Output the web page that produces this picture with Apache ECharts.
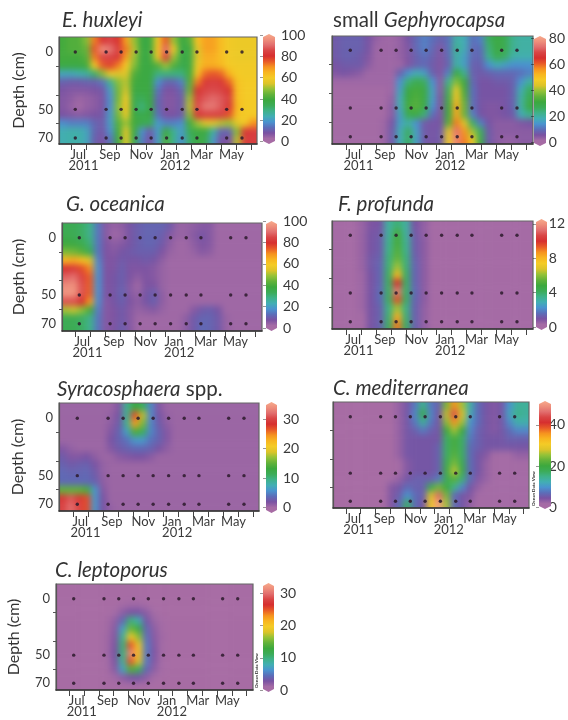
<!DOCTYPE html>
<html><head><meta charset="utf-8">
<style>html,body{margin:0;padding:0;background:#fff}#c{width:568px;height:720px}</style>
<script src="https://cdn.jsdelivr.net/npm/echarts@6/dist/echarts.min.js"></script>
</head><body><div id="c"></div>
<script>
// sampling stations
const sampleMonths = [0.3,2.35,3.35,4.35,5.35,6.38,7.42,8.4,10.38,11.4];
const sampleDepths = [0,50,70];
const monthNames = ['Jul','Sep','Nov','Jan','Mar','May'];
const yearNames = ['2011','2012'];

// field values: rows top to bottom, columns left to right
const huxleyi = [
[40,42,42,48,72,82,85,80,68,50,38,38,58,75,50,38,42,62,68,68,63,59,58,58,58],
[40,42,42,45,76,96,92,84,72,52,38,38,62,90,58,37,38,55,68,68,63,59,58,58,58],
[40,40,40,43,72,85,85,82,68,50,38,38,58,84,50,37,38,55,66,66,63,59,58,58,58],
[38,38,38,40,60,75,78,72,60,48,38,38,42,50,42,36,38,58,66,66,64,60,59,59,59],
[22,22,24,26,32,48,58,55,55,42,38,38,30,30,30,30,40,62,74,76,74,65,60,59,59],
[11,10,10,11,11,14,28,48,52,40,38,38,18,12,12,16,42,72,82,84,82,74,62,60,60],
[8,7,7,7,8,9,20,46,54,38,38,38,14,8,8,12,45,80,85,86,85,80,63,60,60],
[7,6,4,5,6,8,18,46,60,36,34,38,12,7,7,10,50,84,88,90,88,84,63,60,60],
[7,5,3,5,6,8,18,48,62,36,30,38,12,7,7,10,52,86,92,92,88,82,64,60,60],
[8,7,6,7,8,9,20,46,58,38,36,38,14,8,8,10,48,82,84,84,84,76,62,60,60],
[18,16,16,16,12,10,20,42,50,40,36,34,20,16,16,18,40,50,55,55,52,50,56,59,70],
[24,25,25,22,12,9,18,40,56,38,18,10,20,38,28,20,34,38,38,26,12,12,48,82,84],
[24,25,25,22,11,8,14,38,56,36,16,8,20,42,28,18,32,38,36,20,8,8,52,84,84]];
const gephyrocapsa = [
[7,8,8,8,6,3,2,2,3,6,9,12,10,8,10,20,18,10,12,26,30,28,22,20,20],
[7,8,8,8,6,2,2,2,3,5,9,12,9,5,10,22,18,9,10,24,30,28,22,20,20],
[7,8,8,7,5,2,2,2,3,5,8,10,8,5,9,20,16,9,9,22,28,26,20,19,19],
[6,7,7,7,4,2,2,2,2,5,8,9,7,5,8,20,16,8,8,14,18,16,14,14,14],
[5,6,5,4,2,2,2,2,8,14,18,16,8,5,12,30,22,8,7,8,9,9,9,10,12],
[2,2,2,2,2,2,2,2,14,24,28,26,14,4,22,38,30,9,6,6,7,7,8,14,20],
[1,1,1,1,1,1,1,2,16,30,32,30,16,4,26,46,32,10,6,6,6,6,8,18,26],
[1,1,1,1,1,1,1,3,18,31,33,30,16,5,28,50,34,10,6,6,6,6,8,20,28],
[1,1,1,1,1,1,1,4,18,32,34,30,14,5,30,54,36,10,6,5,5,6,8,20,30],
[1,1,1,1,1,1,1,4,16,28,30,24,10,5,30,54,36,12,6,5,5,6,7,18,22],
[1,1,1,1,1,1,2,6,16,20,14,7,6,6,34,58,44,26,12,6,4,4,4,5,6],
[1,1,1,1,1,1,2,7,18,26,16,7,6,7,44,74,56,40,26,7,4,4,4,4,4],
[1,1,1,1,1,1,2,7,18,26,16,7,6,7,46,76,58,46,28,7,4,3,3,4,4]];
const oceanica = [
[34,34,32,28,14,6,4,5,8,10,11,11,11,9,4,4,5,6,6,3,3,3,3,3,3],
[35,34,32,28,14,6,3,4,8,10,11,11,10,6,4,4,6,8,6,3,3,3,3,3,3],
[38,37,35,30,14,7,5,6,8,10,11,11,9,5,3,3,5,7,6,3,3,3,3,3,3],
[46,45,42,34,14,7,6,8,9,10,10,10,7,4,3,3,4,6,5,3,3,3,3,3,3],
[64,66,62,54,16,7,7,9,8,8,9,8,5,3,3,3,3,3,3,3,3,3,3,3,3],
[80,82,76,70,18,7,7,10,7,7,7,6,4,3,3,3,3,3,3,3,3,3,3,3,3],
[88,90,84,74,18,7,8,10,7,5,7,6,4,3,3,3,3,3,3,3,3,3,3,3,3],
[94,95,86,74,18,7,8,10,6,3,7,7,4,3,3,3,3,3,3,3,3,3,3,3,3],
[96,96,86,74,18,7,8,11,6,4,8,10,5,3,3,3,3,3,3,3,3,3,3,3,3],
[86,86,80,68,17,6,8,10,7,5,8,10,5,3,3,3,3,3,3,3,3,3,3,3,3],
[50,52,48,40,15,6,7,9,6,4,5,6,4,3,3,3,6,9,10,8,3,3,3,3,3],
[34,34,32,28,14,6,7,9,6,3,3,3,3,3,3,5,9,11,11,9,4,3,3,3,3],
[34,34,32,28,14,6,7,10,6,3,3,3,3,3,3,5,9,12,11,9,4,3,3,3,3]];
const profunda = [
[.2,.2,.2,.5,.9,1,3.2,3.8,3.2,1,.6,.2,.2,.2,.2,.2,.2,.2,.2,.2,.2,.2,.2],
[.2,.2,.2,.5,1,1.1,3.2,5,3.2,1.1,.6,.2,.2,.2,.2,.2,.2,.2,.2,.2,.2,.2,.2],
[.2,.2,.2,.5,1,1.2,3.4,5,3.4,1.2,.7,.2,.2,.2,.2,.2,.2,.2,.2,.2,.2,.2,.2],
[.2,.2,.2,.5,1,1.2,3.5,5.2,3.5,1.2,.7,.2,.2,.2,.2,.2,.2,.2,.2,.2,.2,.2,.2],
[.2,.2,.2,.5,1.1,1.3,3.7,5.5,3.7,1.3,.7,.2,.2,.2,.2,.2,.2,.2,.2,.2,.2,.2,.2],
[.2,.2,.2,.5,1.1,1.4,3.8,6.2,3.8,1.4,.7,.2,.2,.2,.2,.2,.2,.2,.2,.2,.2,.2,.2],
[.2,.2,.2,.4,1,1.4,4,8,4,1.4,.7,.2,.2,.2,.2,.2,.2,.2,.2,.2,.2,.2,.2],
[.2,.2,.2,.4,1,1.4,4,10,4,1.4,.7,.2,.2,.2,.2,.2,.2,.2,.2,.2,.2,.2,.2],
[.2,.2,.2,.4,1,1.5,4,11.5,4,1.5,.7,.2,.2,.2,.2,.2,.2,.2,.2,.2,.2,.2,.2],
[.2,.2,.2,.4,1,1.5,4,9.5,4,1.4,.7,.2,.2,.2,.2,.2,.2,.2,.2,.2,.2,.2,.2],
[.2,.2,.2,.4,1,1.3,3.6,6.2,3.6,1.3,.6,.2,.2,.2,.2,.2,.2,.2,.2,.2,.2,.2,.2],
[.2,.2,.2,.3,1,1.3,3.8,8.2,3.8,1.3,.6,.2,.2,.2,.2,.2,.2,.2,.2,.2,.2,.2,.2],
[.2,.2,.2,.3,1,1.3,4,9,4,1.3,.6,.2,.2,.2,.2,.2,.2,.2,.2,.2,.2,.2,.2]];
const syracosphaera = [
[.4,.4,.4,.4,.4,.4,.4,1.5,9,13,11,5,1.5,.4,.4,.4,.4,.4,.4,.4,.4,.4,.4,.4,.4],
[.4,.4,.4,.4,.4,.4,.8,2,9,27,18,5,2,.8,.4,.4,.4,.4,.4,.4,.4,.4,.4,.4,.4],
[.4,.4,.4,.4,.4,.4,1,2.5,9,24,16,5,2.5,1,.4,.4,.4,.4,.4,.4,.4,.4,.4,.4,.4],
[.4,.4,.4,.4,.4,.4,1.5,3,6.5,14,11,5,3,1.5,.4,.4,.4,.4,.4,.4,.4,.4,.4,.4,.4],
[.4,.4,.4,.4,.4,.4,2,3,4,6,6,4,3,1.5,.4,.4,.4,.4,.4,.4,.4,.4,.4,.4,.4],
[1.5,.8,.4,.4,.4,.4,1.5,2.5,3,3.5,3.5,3,2,1,.4,.4,.4,.4,.4,.4,.4,.4,.4,.4,.4],
[2.5,1.5,1.5,2,1,.4,.4,1.2,1.5,1.8,1.8,1.2,.4,.4,.4,.4,.4,.4,.4,.4,.4,.4,.4,.4,.4],
[3,2.5,2.8,3,2,.8,.4,.4,.4,.4,.4,.4,.4,.4,.4,.4,.4,.4,.4,.4,.4,.4,.4,.4,.4],
[3.5,3.2,3.2,3.4,2.5,.8,.4,.4,.4,.4,.4,.4,.4,.4,.4,.4,.4,.4,.4,.4,.4,.4,.4,.4,.4],
[3.5,3.5,3.5,3.5,3,1,.4,.4,.4,.4,.4,.4,.4,.4,.4,.4,.4,.4,.4,.4,.4,.4,.4,.4,.4],
[15,15,15,14,6,1.5,.4,.4,.4,.4,.4,.4,.4,.4,.4,.4,.4,.4,.4,.4,.4,.4,.4,.4,.4],
[29,31,29,27,6,2,.4,.4,.4,.4,.4,.4,.4,.4,.4,.4,.4,.4,.4,.4,.4,.4,.4,.4,.4],
[30,32,30,27,6,2,.7,.4,.4,.4,.4,.4,.4,.4,.4,.4,.4,.4,.4,.4,.4,.4,.4,.4,.4]];
const mediterranea = [
[.6,.6,.6,.6,.6,.6,.6,.6,3,5,8,15,8,6,24,36,26,13,7,5,4,5,10,14,14],
[.6,.6,.6,.6,.6,.6,.6,.6,3,5,9,19,9,5,27,44,28,12,7,5,4,5,11,15,14],
[.6,.6,.6,.6,.6,.6,.6,.6,3,5,8,14,8,5,25,36,26,10,7,5,4,5,9,13,13],
[.6,.6,.6,.6,.6,.6,.6,.6,3,5,6,8,6,5,20,26,20,9,6,5,4,5,7,9,9],
[.6,.6,.6,.6,.6,.6,.6,.6,3,5,5,5,5,5,17,21,17,8,6,5,5,5,6,6,6],
[.6,.6,.6,.6,.6,.6,.6,.6,3,5,5,5,5,6,17,21,17,7,6,5,5,5,5,5,5],
[.6,.6,.6,.6,.6,.6,.6,.6,3,5,5,5,5,6,17,22,17,7,5,4,2,2,2,3,3],
[.6,.6,.6,.6,.6,.6,.6,.6,2,4,5,5,5,6,18,24,18,7,5,3,2,2,2,2,2],
[.6,.6,.6,.6,.6,.6,.6,.6,2,4,5,5,5,6,19,27,19,7,5,3,2,2,2,2,2],
[.6,.6,.6,.6,.6,.6,.6,2,3,5,6,6,6,8,18,22,16,7,4,3,2,2,2,2,2],
[.6,.6,.6,.6,.6,.6,.6,4,5,7,6,6,18,24,20,15,9,5,3,2,2,2,2,2,2],
[.6,.6,.6,.6,.6,.6,.6,4,6,10,7,6,28,46,24,7,5,4,2,2,2,2,2,2,2],
[.6,.6,.6,.6,.6,.6,.6,4,7,17,7,5,30,50,26,7,5,3,2,2,2,2,2,2,2]];
const leptoporus = [
[.2,.2,.2,.2,.2,.2,.2,.2,.2,.2,.2,.2,.2,.2,.2,.2,.2,.2,.2,.2,.2,.2,.2,.2,.2],
[.2,.2,.2,.2,.2,.2,.2,.2,.2,.2,.2,.2,.2,.2,.2,.2,.2,.2,.2,.2,.2,.2,.2,.2,.2],
[.2,.2,.2,.2,.2,.2,.2,.2,.8,1.2,1.2,.8,.2,.2,.2,.2,.2,.2,.2,.2,.2,.2,.2,.2,.2],
[.2,.2,.2,.2,.2,.2,.2,1,2,2.8,2.8,2,1,.2,.2,.2,.2,.2,.2,.2,.2,.2,.2,.2,.2],
[.2,.2,.2,.2,.2,.2,.8,1.8,4,10,8,3,1.5,.8,.2,.2,.2,.2,.2,.2,.2,.2,.2,.2,.2],
[.2,.2,.2,.2,.2,.2,1,2.2,7,15,12,4,2,1,.2,.2,.2,.2,.2,.2,.2,.2,.2,.2,.2],
[.2,.2,.2,.2,.2,.2,1.2,2.4,9,20,16,4.5,2.2,1.2,.2,.2,.2,.2,.2,.2,.2,.2,.2,.2,.2],
[.2,.2,.2,.2,.2,.2,1.2,2.6,10,25,19,5,2.4,1,.2,.2,.2,.2,.2,.2,.2,.2,.2,.2,.2],
[.2,.2,.2,.2,.2,.2,1.2,2.8,10,31,21,5,2.6,1,.2,.2,.2,.2,.2,.2,.2,.2,.2,.2,.2],
[.2,.2,.2,.2,.2,.2,1,2.6,9,25,18,5,2.4,.8,.2,.2,.2,.2,.2,.2,.2,.2,.2,.2,.2],
[.2,.2,.2,.2,.2,.2,.8,2.2,7,14,11,4,2,.6,.2,.2,.2,.2,.2,.2,.2,.2,.2,.2,.2],
[.2,.2,.2,.2,.2,.2,.2,1.2,2,3,3,2,1,.2,.2,.2,.2,.2,.2,.2,.2,.2,.2,.2,.2],
[.2,.2,.2,.2,.2,.2,.2,.2,.2,.2,.2,.2,.2,.2,.2,.2,.2,.2,.2,.2,.2,.2,.2,.2,.2]];

// colour-bar tick labels
const ticksA = [0,20,40,60,80,100];
const ticksB = [0,20,40,60,80];
const ticksC = [0,4,8,12];
const ticksD = [0,10,20,30];
const ticksE = [0,20,40];

// layout, kept apart from the values
const monthPos = [0.5,2.6,4.7,6.6,8.7,10.7], yearPos = [0.85,6.95];
const pos50 = 46.7, yTicks = [11.5,35,58], monthTicks = [0,1,2,3,4,5,6,7,8,9,10,11,12];
const panels = [
 {t:'{i|E. huxleyi}',tx:62,ty:10,d:huxleyi,tk:ticksA,l:59,r:257,top:37,b:144,x0:75.3,x1:242,y0:52,y70:138,cl:263,cr:275,ct:34,cb:144,v0:141.7,vk:1.067,lab:1,dx:18},
 {t:'small {i|Gephyrocapsa}',tx:333,ty:10,d:gephyrocapsa,tk:ticksB,l:332,r:533,top:36,b:144,x0:350.3,x1:517,y0:50.3,y70:136.7,cl:534,cr:546,ct:36,cb:146,v0:142.3,vk:1.3,lab:0},
 {t:'{i|G. oceanica}',tx:66,ty:194,d:oceanica,tk:ticksA,l:62,r:262,top:223,b:331,x0:79.3,x1:246,y0:237.7,y70:323.7,cl:266,cr:277,ct:221,cb:331,v0:328,vk:1.07,lab:1,dx:18},
 {t:'{i|F. profunda}',tx:338,ty:194,d:profunda,tk:ticksC,l:332,r:533,top:221,b:329,x0:350.3,x1:517,y0:235.3,y70:321.7,cl:536,cr:547,ct:219,cb:330,v0:327,vk:8.6,lab:0},
 {t:'{i|Syracosphaera} spp.',tx:57,ty:379,d:syracosphaera,tk:ticksD,l:59,r:259,top:403,b:511,x0:77.3,x1:244,y0:418.3,y70:504.3,cl:266,cr:277,ct:402,cb:513,v0:507.5,vk:2.95,lab:1,dx:17},
 {t:'{i|C. mediterranea}',tx:333,ty:378,d:mediterranea,tk:ticksE,l:333,r:529,top:402,b:508,x0:350.3,x1:514.7,y0:416.7,y70:501.3,cl:539,cr:551,ct:401,cb:509,v0:507.7,vk:2.07,lab:0,odv:534},
 {t:'{i|C. leptoporus}',tx:55,ty:560,d:leptoporus,tk:ticksD,l:56,r:253,top:584,b:690,x0:73.7,x1:237.7,y0:598.7,y70:683.3,cl:263,cr:274,ct:583,cb:692,v0:690,vk:3.22,lab:1,dx:13,odv:257}
];
const stops = ['#a96ca4','#a46ba5','#7a52a2','#5c6db8','#4a93cf','#42aeb4','#3fb28a','#3cac58','#3ca83e','#62b23a','#94c238','#dcc42a','#f4cb26','#f8b620','#f6931f','#e85a28','#d62f2f','#d94545','#e26e6e','#ee8f7c','#f7aa8c'];
const FONT = 'Lato', TXT = '#3a3a3a';

const grid=[],xAxis=[],yAxis=[],series=[],visualMap=[],title=[],graphic=[];
panels.forEach((p,i)=>{
  const rows=p.d.length, cols=p.d[0].length, W=p.r-p.l, H=p.b-p.top, cw=W/cols, ch=H/rows;
  // heat field grid (one edge-repeat cell wider than the plot on each side)
  const g0=grid.length;
  grid.push({left:p.l-cw,top:p.top-ch,width:W+2*cw,height:H+2*ch,show:false,containLabel:false});
  const ax0=xAxis.length;
  xAxis.push({type:'category',gridIndex:g0,show:false,data:Array.from({length:cols+2},(_,n)=>n)});
  const ay0=yAxis.length;
  yAxis.push({type:'category',gridIndex:g0,show:false,inverse:true,data:Array.from({length:rows+2},(_,n)=>n)});
  const cells=[];
  for(let y=-1;y<=rows;y++)for(let x=-1;x<=cols;x++){
    const v=p.d[Math.min(rows-1,Math.max(0,y))][Math.min(cols-1,Math.max(0,x))];
    cells.push([x+1,y+1,v]);
  }
  series.push({type:'heatmap',xAxisIndex:ax0,yAxisIndex:ay0,data:cells,zlevel:0,progressive:0,emphasis:{disabled:true},silent:true,itemStyle:{borderWidth:0}});
  const vmin=(p.v0-p.cb)/p.vk, vmax=(p.v0-p.ct)/p.vk;
  visualMap.push({type:'continuous',seriesIndex:i,min:vmin,max:vmax,inRange:{color:stops},left:p.cl,top:p.ct,itemWidth:p.cr-p.cl,itemHeight:p.cb-p.ct,padding:0,calculable:false,realtime:false,hoverLink:false,text:null,showLabel:false,zlevel:1,textStyle:{fontSize:0}});
  title.push({text:p.t,left:p.tx,top:p.ty,padding:0,zlevel:1,textStyle:{fontFamily:FONT,fontSize:20.5,fontWeight:'normal',color:'#333',rich:{i:{fontFamily:FONT,fontSize:20.5,fontStyle:'italic',color:'#333'}}}});
  // tapered ends of the colour bar
  const m=(p.cl+p.cr)/2, corner=(a,b,c)=>({type:'polygon',zlevel:1,z:200,silent:true,shape:{points:[a,b,c]},style:{fill:'#fff'}});
  graphic.push(corner([p.cl,p.ct],[m,p.ct],[p.cl,p.ct+3]),corner([p.cr,p.ct],[m,p.ct],[p.cr,p.ct+3]),corner([p.cl,p.cb],[m,p.cb],[p.cl,p.cb-3]),corner([p.cr,p.cb],[m,p.cb],[p.cr,p.cb-3]));
});
// plot grids, drawn after the heat grids
panels.forEach((p,i)=>{
  const ppm=(p.x1-p.x0)/(sampleMonths[9]-sampleMonths[0]), k=(p.y70-p.y0)/70;
  const g=grid.length;
  grid.push({left:p.l,top:p.top,width:p.r-p.l,height:p.b-p.top,show:true,borderColor:'#666',borderWidth:1.2,backgroundColor:'transparent',zlevel:1});
  const xmin=sampleMonths[0]+(p.l-p.x0)/ppm, xmax=sampleMonths[0]+(p.r-p.x0)/ppm;
  const ax=xAxis.length;
  xAxis.push({type:'value',gridIndex:g,position:'bottom',min:xmin,max:xmax,zlevel:1,splitLine:{show:false},
    axisLine:{show:true,onZero:false,lineStyle:{color:'#333',width:1.5}},
    axisTick:{show:true,length:6,customValues:monthTicks,lineStyle:{color:'#444',width:1}},
    axisLabel:{show:true,margin:4,customValues:monthPos,fontFamily:FONT,fontSize:13,color:TXT,formatter:v=>monthNames[monthPos.indexOf(v)]||''}});
  xAxis.push({type:'value',gridIndex:g,position:'bottom',min:xmin,max:xmax,zlevel:1,splitLine:{show:false},
    axisLine:{show:false},axisTick:{show:false},
    axisLabel:{show:true,margin:15,customValues:yearPos,fontFamily:FONT,fontSize:13,color:TXT,formatter:v=>yearNames[yearPos.indexOf(v)]||''}});
  const ay=yAxis.length;
  yAxis.push({type:'value',gridIndex:g,inverse:true,min:(p.top-p.y0)/k,max:(p.b-p.y0)/k,zlevel:1,splitLine:{show:false},
    name:p.lab?'Depth (cm)':'',nameLocation:'middle',nameRotate:90,nameGap:p.lab?p.l-p.dx-9:0,
    nameTextStyle:{fontFamily:FONT,fontSize:16,color:'#333'},
    axisLine:{show:true,onZero:false,lineStyle:{color:'#555',width:1.2}},
    axisTick:{show:true,length:3,customValues:yTicks,lineStyle:{color:'#555'}},
    axisLabel:{show:!!p.lab,margin:6,customValues:[0,pos50,70],fontFamily:FONT,fontSize:13,color:TXT,formatter:v=>v===pos50?'50':String(v)}});
  const pts=[];
  sampleDepths.forEach(d=>sampleMonths.forEach(m=>pts.push([m,d===50?pos50:d])));
  series.push({type:'scatter',xAxisIndex:ax,yAxisIndex:ay,data:pts,zlevel:1,symbolSize:3.4,silent:true,itemStyle:{color:'#2b1a2b',opacity:.85}});
  // colour-bar scale
  const gc=grid.length;
  grid.push({left:p.cl,top:p.ct,width:p.cr-p.cl,height:p.cb-p.ct,show:false,zlevel:1});
  xAxis.push({type:'value',gridIndex:gc,show:false,min:0,max:1,zlevel:1});
  yAxis.push({type:'value',gridIndex:gc,position:'right',min:(p.v0-p.cb)/p.vk,max:(p.v0-p.ct)/p.vk,zlevel:1,splitLine:{show:false},
    axisLine:{show:false},axisTick:{show:true,inside:true,length:3,customValues:p.tk,lineStyle:{color:'rgba(0,0,0,.4)'}},
    axisLabel:{show:true,margin:6,customValues:p.tk,fontFamily:FONT,fontSize:14,color:TXT}});
  if(p.odv) graphic.push({type:'text',zlevel:1,x:p.odv,y:p.b-2,rotation:Math.PI/2,originX:0,originY:0,style:{text:'Ocean Data View',fontFamily:FONT,fontSize:4.5,fontWeight:'bold',fill:'#222',align:'left',verticalAlign:'middle'}});
});

const el=document.getElementById('c');
const chart=echarts.init(el,null,{renderer:'canvas',width:568,height:720});
chart.setOption({animation:false,backgroundColor:'transparent',tooltip:{show:false},grid,xAxis,yAxis,series,visualMap,title,graphic});
// soften the field layer only, and keep it inside the plot rectangles
const clip=panels.map(p=>`M${p.l} ${p.top}H${p.r}V${p.b}H${p.l}Z`).join(' ');
function soften(){
  const cv=el.querySelector('canvas[data-zr-dom-id="zr_0"]');
  if(cv){cv.style.filter='blur(3px)';cv.style.clipPath=`path("${clip}")`;}
}
soften();chart.on('finished',soften);requestAnimationFrame(soften);
</script></body></html>
